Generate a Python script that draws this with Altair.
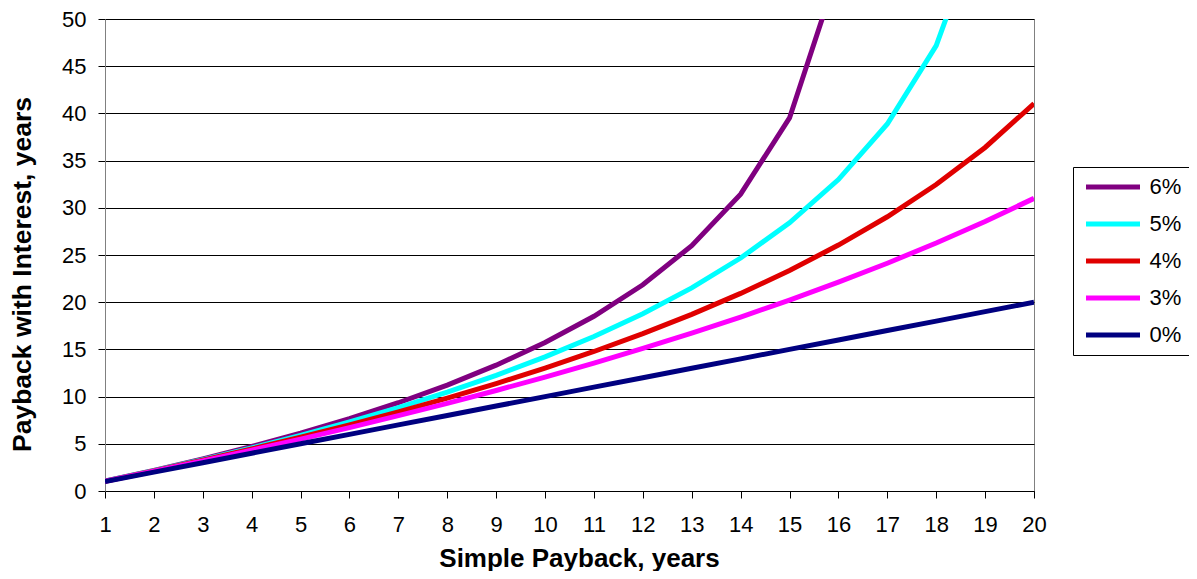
import altair as alt
import pandas as pd

simple_payback = list(range(1, 21))
series_names = ["6%", "5%", "4%", "3%", "0%"]
series_colors = ["#800080", "#00FFFF", "#E00000", "#FF00FF", "#000080"]

pb_6 = [1.06, 2.19, 3.41, 4.71, 6.12, 7.66, 9.35, 11.22, 13.33, 15.73, 18.51, 21.85,
        25.99, 31.45, 39.52, 55.24, None, None, None, None]
pb_5 = [1.05, 2.16, 3.33, 4.57, 5.90, 7.31, 8.83, 10.47, 12.25, 14.21, 16.37, 18.78,
        21.52, 24.68, 28.41, 32.99, 38.88, 47.19, 61.40, None]
pb_4 = [1.04, 2.13, 3.26, 4.45, 5.69, 7.00, 8.38, 9.83, 11.38, 13.02, 14.78, 16.67,
        18.71, 20.93, 23.36, 26.05, 29.05, 32.46, 36.39, 41.04]
pb_3 = [1.03, 2.09, 3.19, 4.33, 5.50, 6.71, 7.98, 9.28, 10.65, 12.07, 13.55, 15.10,
        16.72, 18.43, 20.23, 22.12, 24.13, 26.27, 28.55, 31.00]
pb_0 = [1, 2, 3, 4, 5, 6, 7, 8, 9, 10, 11, 12, 13, 14, 15, 16, 17, 18, 19, 20]

rows = []
for name, vals in zip(series_names, [pb_6, pb_5, pb_4, pb_3, pb_0]):
    for x, v in zip(simple_payback, vals):
        if v is not None:
            rows.append({"sp": x, "pb": v, "rate": name})
df = pd.DataFrame(rows)

FONT = "Liberation Sans"

chart = alt.Chart(df).mark_line(strokeWidth=5, clip=True).encode(
    x=alt.X("sp:Q",
            scale=alt.Scale(domain=[1, 20], nice=False, zero=False),
            axis=alt.Axis(values=simple_payback, format="d", grid=False,
                          title="Simple Payback, years", labelFlush=False,
                          tickSize=7, tickColor="#000000", domainColor="#000000",
                          labelFontSize=22, labelPadding=16, labelColor="#000000",
                          titleFontSize=26, titleFontWeight="bold", titleColor="#000000",
                          titleX=474, titleY=75, titleAlign="center",
                          titleBaseline="alphabetic")),
    y=alt.Y("pb:Q",
            scale=alt.Scale(domain=[0, 50], nice=False),
            axis=alt.Axis(values=list(range(0, 51, 5)), grid=True, gridColor="#000000",
                          gridWidth=1, title="Payback with Interest, years",
                          labelFlush=False,
                          tickSize=7, tickColor="#000000", domainColor="#808080",
                          labelFontSize=22, labelPadding=12, labelColor="#000000",
                          titleFontSize=26.5, titleFontWeight="bold", titleColor="#000000",
                          titleAngle=270, titleX=-83, titleY=255,
                          titleAlign="center", titleBaseline="middle")),
    color=alt.Color("rate:N",
                    scale=alt.Scale(domain=series_names, range=series_colors),
                    sort=series_names,
                    legend=alt.Legend(title=None, orient="none", legendX=968, legendY=148,
                                      symbolType="stroke", symbolStrokeWidth=5,
                                      symbolSize=2916, clipHeight=24, rowPadding=13,
                                      padding=8, symbolOffset=2.5, labelOffset=7,
                                      labelFontSize=22, labelFont=FONT, labelColor="#000000",
                                      strokeColor="#000000", fillColor="#FFFFFF")),
    order=alt.Order("rate:N"),
).properties(
    width=929, height=472,
    autosize=alt.AutoSizeParams(type="none"),
    padding={"left": 97, "top": 11, "right": 155, "bottom": 80},
).configure(font=FONT).configure_view(stroke="#808080", strokeWidth=1)

chart.save("out.html", embed_options={"renderer": "svg", "actions": False})
